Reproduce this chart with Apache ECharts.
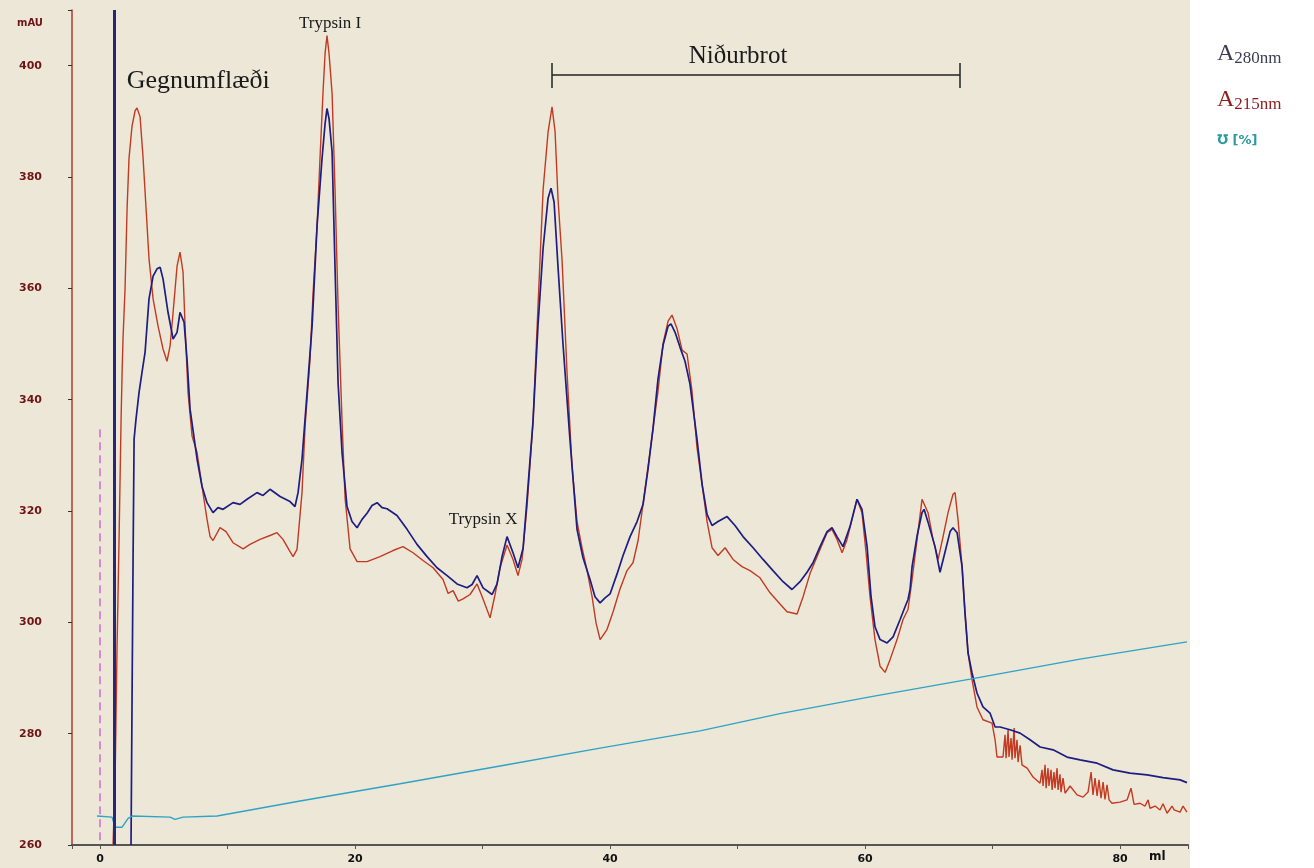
<!DOCTYPE html>
<html><head><meta charset="utf-8">
<script src="https://cdn.jsdelivr.net/npm/echarts@6/dist/echarts.min.js"></script>
<style>
html,body{margin:0;padding:0;background:#fff;}
#c{width:1314px;height:868px;background:linear-gradient(to right,#ECE7D7 0,#ECE7D7 1190px,#ffffff 1190px);}
</style></head><body><div id="c"></div>
<script>
// x: elution volume (ml), y: absorbance (mAU)
const a215 = [
[1.02,260.0],[1.18,271.7],[1.33,295.1],[1.49,314.9],[1.65,336.5],[1.73,344.9],[1.80,350.9],[1.96,359.9],[2.12,374.3],[2.27,383.3],[2.51,389.2],[2.75,391.9],[2.90,392.4],[3.14,390.8],[3.37,383.6],[3.61,374.3],[3.84,365.3],[4.16,358.1],[4.55,353.2],[4.94,349.1],[5.25,346.9],[5.49,349.6],[5.73,355.7],[6.04,364.0],[6.27,366.5],[6.51,362.9],[6.67,353.2],[6.90,341.3],[7.22,333.4],[7.61,330.5],[8.00,324.4],[8.39,318.5],[8.63,315.4],[8.86,314.7],[9.41,317.0],[9.88,316.3],[10.43,314.3],[11.22,313.2],[11.76,314.0],[12.55,314.9],[13.33,315.6],[13.88,316.1],[14.35,314.9],[14.90,312.7],[15.14,311.8],[15.45,313.1],[15.84,323.3],[16.08,335.2],[16.47,347.3],[16.71,359.3],[17.02,371.2],[17.25,383.3],[17.49,395.3],[17.65,402.2],[17.80,405.4],[17.96,402.2],[18.20,395.0],[18.43,377.7],[18.67,356.8],[18.98,336.1],[19.22,322.2],[19.61,313.2],[20.16,310.9],[20.94,310.9],[21.96,311.8],[22.98,312.9],[23.76,313.6],[24.55,312.5],[25.33,311.1],[26.12,309.8],[26.90,307.7],[27.30,305.2],[27.69,305.7],[28.10,303.8],[28.47,304.2],[29.02,305.0],[29.57,306.9],[30.04,304.2],[30.59,300.8],[30.98,305.0],[31.37,309.8],[31.92,313.9],[32.39,311.3],[32.78,308.4],[33.10,311.3],[33.49,320.8],[33.96,336.1],[34.35,356.8],[34.75,377.7],[35.14,388.1],[35.45,392.6],[35.69,388.1],[35.92,376.1],[36.24,364.9],[36.63,344.7],[37.02,328.0],[37.41,318.1],[37.80,313.4],[38.20,309.3],[38.59,304.6],[38.90,299.9],[39.22,296.9],[39.76,298.7],[40.24,301.9],[40.78,306.0],[41.33,309.3],[41.80,310.7],[42.20,314.7],[42.59,321.3],[42.98,328.0],[43.37,334.8],[43.76,341.5],[44.16,350.1],[44.55,354.1],[44.86,355.2],[45.25,352.8],[45.65,348.9],[46.04,348.2],[46.43,341.5],[46.82,331.4],[47.22,324.8],[47.61,318.1],[48.00,313.4],[48.47,312.0],[49.02,313.4],[49.65,311.3],[50.35,310.0],[50.98,309.3],[51.76,308.0],[52.55,305.3],[53.33,303.3],[53.88,301.9],[54.67,301.5],[55.14,304.6],[55.69,308.8],[56.47,313.1],[57.02,316.1],[57.41,316.7],[57.80,314.9],[58.20,312.5],[58.59,314.9],[58.98,318.5],[59.37,322.1],[59.76,319.7],[60.08,312.5],[60.39,304.6],[60.78,296.9],[61.18,292.1],[61.57,291.0],[61.96,293.3],[62.51,296.9],[62.98,300.5],[63.37,302.3],[63.69,307.7],[64.08,314.9],[64.47,322.1],[64.55,322.4],[64.94,319.7],[65.33,314.9],[65.73,311.3],[66.12,315.4],[66.51,319.7],[66.90,323.0],[67.06,323.3],[67.29,318.5],[67.61,310.0],[67.84,301.7],[68.08,294.5],[68.39,289.7],[68.78,284.8],[69.25,282.5],[69.96,281.9],[70.20,278.9],[70.35,275.8],
[70.82,275.8],[70.98,279.8],[71.06,275.6],[71.22,280.7],[71.29,275.8],[71.45,279.2],[71.53,275.3],[71.69,281.0],[71.76,275.6],[71.92,278.9],[72.00,274.9],[72.16,277.9],[72.31,274.4],[72.71,273.8],[73.18,272.2],[73.73,271.1],[73.88,273.5],[73.96,270.6],[74.12,274.4],[74.20,270.2],[74.35,273.8],[74.43,270.6],[74.59,273.5],[74.67,269.9],[74.82,273.1],[74.90,270.2],[75.06,273.8],[75.14,269.9],[75.29,272.7],[75.37,269.5],[75.53,272.0],[75.69,269.3],[76.08,270.6],[76.63,269.0],[77.10,268.6],[77.49,269.5],[77.73,273.1],[77.88,269.0],[78.04,272.0],[78.20,268.8],[78.35,271.7],[78.51,268.4],[78.67,271.3],[78.82,268.2],[78.98,270.8],[79.14,268.1],[79.37,267.5],[80.00,267.7],[80.55,268.1],[80.86,270.2],[81.10,267.3],[81.57,267.5],[81.96,267.0],[82.20,268.1],[82.35,266.6],[82.75,267.0],[83.14,266.3],[83.37,267.4],[83.69,265.7],[84.08,267.0],[84.24,266.3],[84.71,265.9],[84.94,267.0],[85.25,265.9]
];
const a280 = [
[2.43,260.0],[2.51,286.1],[2.59,311.3],[2.67,332.9],[2.82,336.5],[3.06,341.3],[3.29,344.9],[3.53,348.5],[3.84,358.1],[4.16,362.2],[4.47,363.5],[4.71,363.8],[4.94,361.7],[5.33,355.7],[5.73,350.9],[6.04,352.1],[6.27,355.7],[6.59,353.9],[6.82,347.3],[7.06,338.3],[7.61,329.3],[8.00,324.4],[8.39,321.5],[8.86,319.7],[9.25,320.6],[9.65,320.3],[10.43,321.5],[10.98,321.2],[11.53,322.1],[12.31,323.3],[12.78,322.8],[13.33,323.9],[14.12,322.6],[14.90,321.7],[15.29,320.8],[15.53,323.3],[15.84,329.3],[16.24,341.3],[16.63,353.2],[17.02,371.2],[17.41,383.3],[17.65,389.6],[17.80,392.3],[17.96,390.5],[18.20,384.5],[18.43,363.8],[18.67,343.0],[18.98,330.5],[19.37,320.8],[19.76,318.1],[20.16,317.0],[20.55,318.5],[20.94,319.6],[21.33,321.0],[21.73,321.5],[22.12,320.6],[22.51,320.4],[23.29,319.2],[24.08,316.7],[24.86,314.0],[25.65,311.8],[26.43,309.8],[27.22,308.4],[28.00,306.9],[28.78,306.2],[29.18,306.8],[29.57,308.4],[30.04,306.2],[30.75,305.0],[31.14,306.9],[31.53,311.8],[31.92,315.4],[32.39,312.5],[32.78,309.8],[33.18,313.3],[33.49,322.2],[33.96,336.1],[34.35,353.4],[34.75,367.2],[35.14,376.2],[35.37,378.0],[35.61,375.5],[35.92,363.8],[36.31,350.0],[36.86,332.7],[37.41,316.7],[37.88,311.6],[38.43,307.7],[38.82,304.6],[39.22,303.5],[39.61,304.4],[40.00,305.1],[40.55,308.7],[41.02,312.0],[41.57,315.4],[42.12,318.1],[42.59,321.2],[42.98,327.5],[43.37,334.8],[43.76,343.7],[44.16,349.8],[44.55,353.2],[44.78,353.6],[45.10,352.1],[45.49,349.4],[45.88,346.9],[46.27,342.8],[46.82,332.9],[47.22,324.8],[47.61,319.4],[48.00,317.4],[48.47,318.1],[49.18,319.0],[49.80,317.4],[50.43,315.4],[51.22,313.4],[52.00,311.3],[52.78,309.3],[53.57,307.3],[54.27,305.9],[54.90,307.3],[55.45,309.0],[55.92,310.7],[56.47,313.6],[57.02,316.3],[57.41,317.0],[57.80,315.4],[58.27,313.6],[58.82,317.2],[59.37,322.1],[59.76,320.3],[60.16,313.6],[60.47,304.6],[60.78,299.2],[61.18,296.9],[61.73,296.3],[62.20,297.4],[62.75,300.5],[63.14,302.8],[63.37,304.1],[63.53,305.9],[63.69,310.0],[64.08,315.5],[64.47,319.7],[64.63,320.3],[64.94,318.0],[65.49,313.6],[65.88,309.0],[66.27,312.6],[66.67,316.3],[66.90,317.0],[67.22,316.1],[67.61,310.0],[67.84,301.7],[68.08,294.5],[68.39,290.9],[68.78,287.3],[69.25,284.8],[69.80,283.7],[70.20,281.2],[70.59,281.2],[71.37,280.7],[72.16,280.1],[72.94,278.9],[73.73,277.6],[74.75,277.1],[75.84,275.8],[76.86,275.3],[78.20,274.7],[79.45,273.5],[80.78,272.9],[82.12,272.6],[83.37,272.1],[84.71,271.7],[85.25,271.2]
];
const cond = [
[-0.24,265.2],[0.94,265.0],[1.18,263.2],[1.73,263.2],[2.20,264.8],[2.51,265.2],[5.49,265.0],[5.88,264.6],[6.51,265.0],[9.18,265.2],[15.69,267.9],[23.53,271.0],[31.37,274.2],[39.22,277.4],[47.06,280.5],[53.33,283.6],[60.39,286.6],[68.24,289.8],[76.86,293.4],[85.25,296.5]
];
const annotations = [
  {name:'Gegnumflæði', coord:[7.7,397.2], size:26},
  {name:'Trypsin I', coord:[18.04,407.6], size:17},
  {name:'Trypsin X', coord:[30.04,318.5], size:17},
  {name:'Niðurbrot', coord:[50.04,401.6], size:25}
];
const bracketX = [35.45, 67.45];
const bracketY = 398.4, bracketCap = [400.5, 396.0];
const injectionMark = 1.1;
const startMark = 0, startMarkTop = 334.7;
const xRange = [-2.2, 85.33], yRange = [260, 410];
const legendNames = ['A280nm','A215nm','℧ [%]'];

const chart = echarts.init(document.getElementById('c'));
chart.setOption({
  animation:false,
  backgroundColor:'transparent',
  grid:{left:72,right:126,top:10,bottom:23},
  xAxis:{type:'value',min:xRange[0],max:xRange[1],splitNumber:5,
    axisLine:{onZero:false,lineStyle:{color:'#555',width:2}},
    axisTick:{show:true,length:4,inside:false,lineStyle:{color:'#555'}},
    minorTick:{show:true,splitNumber:2,length:4,lineStyle:{color:'#555'}},
    splitLine:{show:false},
    axisLabel:{margin:9,color:'#111',fontWeight:'bold',fontSize:11,fontFamily:'DejaVu Sans',
      formatter:v=>(Math.abs(v%20)<1e-6&&v>=0&&v<=80)?String(Math.round(v)):''}},
  yAxis:{type:'value',min:yRange[0],max:yRange[1],interval:20,
    axisLine:{show:true,onZero:false,lineStyle:{color:'#b03a30',width:1.5}},
    axisTick:{show:true,length:4,lineStyle:{color:'#333'}},
    splitLine:{show:false},
    axisLabel:{margin:30,color:'#6e1414',fontWeight:'bold',fontSize:11,fontFamily:'DejaVu Sans',
      formatter:v=>(v%20===0&&v<=400)?String(v):''}},
  legend:{orient:'vertical',left:1207,top:37,itemGap:21,itemWidth:0,itemHeight:0,icon:'none',
    data:[{name:legendNames[0],textStyle:{color:'#3c3c55'}},{name:legendNames[1],textStyle:{color:'#8e1c1c'}},{name:legendNames[2],textStyle:{color:'#2a9a9e'}}],
    formatter:n=> n===legendNames[2] ? '{u|'+n+'}' : '{a|A}{s|'+n.slice(1)+'}',
    textStyle:{fontFamily:'Liberation Serif',rich:{
      a:{fontSize:24,fontFamily:'Liberation Serif',lineHeight:26,verticalAlign:'middle'},
      s:{fontSize:17,fontFamily:'Liberation Serif',lineHeight:11,verticalAlign:'bottom'},
      u:{fontSize:13,fontFamily:'DejaVu Sans',fontWeight:'bold',lineHeight:16}}}},
  graphic:[
    {type:'text',left:17,top:18,style:{text:'mAU',fill:'#6e1414',font:'bold 10px DejaVu Sans'}},
    {type:'text',left:1149,top:851,style:{text:'ml',fill:'#111',font:'bold 12px DejaVu Sans'}}
  ],
  series:[
    {name:'A215nm',type:'line',data:a215,showSymbol:false,symbol:'none',z:2,
      lineStyle:{color:'#c23a22',width:1.4},itemStyle:{color:'#c23a22'},
      markLine:{silent:true,symbol:['none','none'],label:{show:false},
        data:[[{coord:[startMark,startMarkTop],lineStyle:{color:'#d46ad4',type:[8,5],width:1.5}},{coord:[startMark,yRange[0]]}]]}},
    {name:'A280nm',type:'line',data:a280,showSymbol:false,symbol:'none',z:3,
      lineStyle:{color:'#1d1d82',width:1.7},itemStyle:{color:'#1d1d82'},
      markLine:{silent:true,symbol:['none','none'],label:{show:false},
        data:[[{coord:[injectionMark,yRange[1]],lineStyle:{color:'#26267a',type:'solid',width:3}},{coord:[injectionMark,yRange[0]]}]]}},
    {name:'℧ [%]',type:'line',data:cond,showSymbol:false,symbol:'none',z:4,
      lineStyle:{color:'#2fa3c6',width:1.4},itemStyle:{color:'#2fa3c6'}},
    {name:'notes',type:'line',data:[],z:5,
      markLine:{silent:true,symbol:['none','none'],label:{show:false},lineStyle:{color:'#222',type:'solid',width:1.5},
        data:[
          [{coord:[bracketX[0],bracketY]},{coord:[bracketX[1],bracketY]}],
          [{coord:[bracketX[0],bracketCap[0]]},{coord:[bracketX[0],bracketCap[1]]}],
          [{coord:[bracketX[1],bracketCap[0]]},{coord:[bracketX[1],bracketCap[1]]}]
        ]},
      markPoint:{silent:true,symbol:'circle',symbolSize:0,
        data:annotations.map(a=>({name:a.name,coord:a.coord,label:{show:true,position:'inside',formatter:'{b}',
          color:'#1a1a1a',fontFamily:'Liberation Serif',fontSize:a.size}}))}}
  ]
});
</script></body></html>
